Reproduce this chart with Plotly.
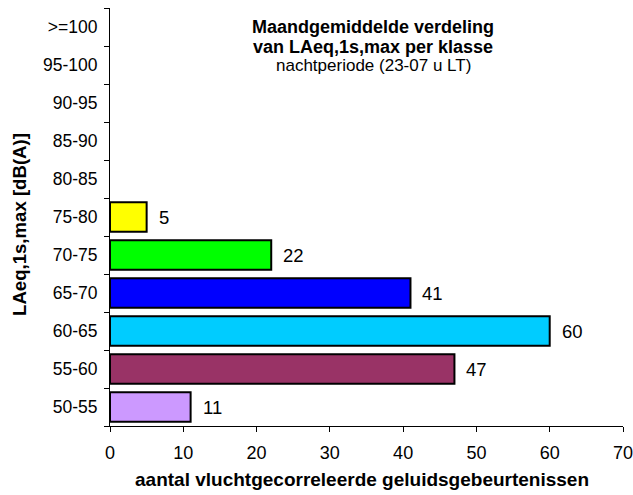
import plotly.graph_objects as go

categories = ["50-55", "55-60", "60-65", "65-70", "70-75", "75-80",
              "80-85", "85-90", "90-95", "95-100", ">=100"]
values = [11, 47, 60, 41, 22, 5, 0, 0, 0, 0, 0]
colors = ["#CC99FF", "#993366", "#00CCFF", "#0000FF", "#00FF00", "#FFFF00",
          "#FFFFFF", "#FFFFFF", "#FFFFFF", "#FFFFFF", "#FFFFFF"]
x_ticks = [0, 10, 20, 30, 40, 50, 60, 70]
title_lines = ["<b>Maandgemiddelde verdeling</b>",
               "<b>van LAeq,1s,max per klasse</b>",
               "nachtperiode (23-07 u LT)"]
x_title = "aantal vluchtgecorreleerde geluidsgebeurtenissen"
y_title = "LAeq,1s,max [dB(A)]"

FONT = "Liberation Sans, Arial, sans-serif"

fig = go.Figure()
fig.add_trace(go.Bar(
    y=categories, x=values, orientation="h",
    marker=dict(color=colors,
                line=dict(color="black", width=[2 if v > 0 else 0 for v in values])),
    hoverinfo="skip",
))

for c, v in zip(categories, values):
    if v > 0:
        fig.add_annotation(x=v, y=c, text=str(v), showarrow=False,
                           xanchor="left", xshift=10,
                           font=dict(size=18.5, color="black", family=FONT))

# chart title (three lines)
for txt, yy, sz in zip(title_lines, [0.9545, 0.9067, 0.8636], [18, 18, 17]):
    fig.add_annotation(xref="paper", yref="paper", x=0.5136, y=yy,
                       xanchor="center", yanchor="middle", text=txt,
                       showarrow=False, font=dict(size=sz, color="black", family=FONT))

# axis titles
fig.add_annotation(xref="paper", yref="paper", x=0.491, y=-0.127,
                   xanchor="center", yanchor="middle", showarrow=False,
                   text="<b>" + x_title + "</b>",
                   font=dict(size=19, color="black", family=FONT))
fig.add_annotation(xref="paper", yref="paper", x=-0.1754, y=0.481,
                   xanchor="center", yanchor="middle", showarrow=False,
                   textangle=-90, text="<b>" + y_title + "</b>",
                   font=dict(size=18.6, color="black", family=FONT))

fig.update_layout(
    width=633, height=495,
    margin=dict(l=110, r=10, t=8, b=69),
    plot_bgcolor="white", paper_bgcolor="white",
    bargap=0.23, showlegend=False,
    font=dict(family=FONT, color="black"),
    xaxis=dict(range=[0, 70], tickvals=x_ticks, ticks="outside", ticklen=5,
               tickcolor="black", showline=True, linecolor="black", linewidth=1,
               showgrid=False, zeroline=False, automargin=False,
               ticklabelstandoff=5, ticklabeloverflow="allow",
               tickfont=dict(size=18, family=FONT)),
    yaxis=dict(categoryorder="array", categoryarray=categories,
               ticks="outside", ticklen=5, tickson="boundaries", tickcolor="black",
               showline=True, linecolor="black", linewidth=1,
               showgrid=False, zeroline=False, automargin=False,
               ticklabelstandoff=8,
               tickfont=dict(size=17.5, family=FONT)),
)

fig.write_html("out.html", config={"displayModeBar": False},
               post_script="document.body.style.margin='0';document.body.style.overflow='hidden';")
